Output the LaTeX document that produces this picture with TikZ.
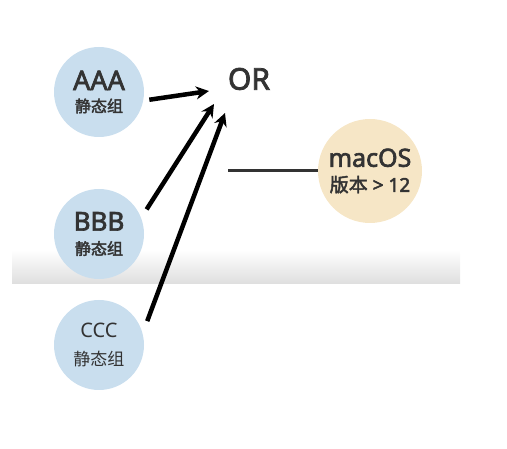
\documentclass[tikz,border=0pt]{standalone}
\usepackage{fontspec}
\setmainfont{Noto Sans}
\newfontfamily\latinmed{Noto Sans}[FakeBold=2.6]
\newfontfamily\cjkreg{Noto Sans CJK SC}
\newfontfamily\cjkmed{Noto Sans CJK SC}[FakeBold=2.4]
\usetikzlibrary{arrows.meta,positioning,calc}
\definecolor{GrpBlue}{HTML}{C9DEEE}
\definecolor{OsBeige}{HTML}{F6E6C6}
\definecolor{InkGrey}{HTML}{333333}
\tikzset{
  grpnode/.style={circle,fill=GrpBlue,minimum size=90pt,inner sep=0pt,align=center,text=InkGrey},
  osnode/.style={circle,fill=OsBeige,minimum size=104pt,inner sep=0pt,align=center,text=InkGrey},
  orarrow/.style={-{Stealth[length=13pt,width=13pt]},line width=4.5pt,black},
}
\newcommand{\grpsub}[1]{{\fontsize{16}{18}\selectfont #1}}

\begin{document}
\begin{tikzpicture}[x=1pt,y=-1pt]
      \useasboundingbox (0,0) rectangle (507,449);
      \shade[top color=white,bottom color=black!13] (12,250) rectangle (460,284);
      \node[grpnode,font=\latinmed\fontsize{27}{22}\selectfont] (aaa) at (99,92) {AAA\\\grpsub{\cjkmed 静态组}};
      \node[grpnode,font=\latinmed\fontsize{26}{24}\selectfont] (bbb) at (99,234) {BBB\\\grpsub{\cjkmed 静态组}};
      \node[grpnode,font=\fontsize{20}{28}\selectfont] (ccc) at (99,345) {CCC\\{\fontsize{17}{18}\selectfont\cjkreg 静态组}};
      \node[text=InkGrey,font=\latinmed\fontsize{30}{30}\selectfont] (or) at (249,79) {OR};
      \node[osnode,font=\latinmed\fontsize{25}{25}\selectfont] (mac) at (370,171) {macOS\\{\fontsize{19}{20}\selectfont{\cjkmed 版本} > 12}};
      \coordinate (in1) at (209,91);
      \coordinate (in2) at (214,104);
      \coordinate (in3) at (225,113);
      \coordinate (orout) at (228,171);
      \draw[orarrow,shorten <=6pt] (aaa.-11) -- (in1);
      \draw[orarrow,shorten <=10pt] (bbb.21) -- (in2);
      \draw[orarrow,shorten <=13pt] (ccc.15) -- (in3);
      \draw[line width=3pt,InkGrey] (orout) -- (mac.west);
    \end{tikzpicture}
\end{document}
